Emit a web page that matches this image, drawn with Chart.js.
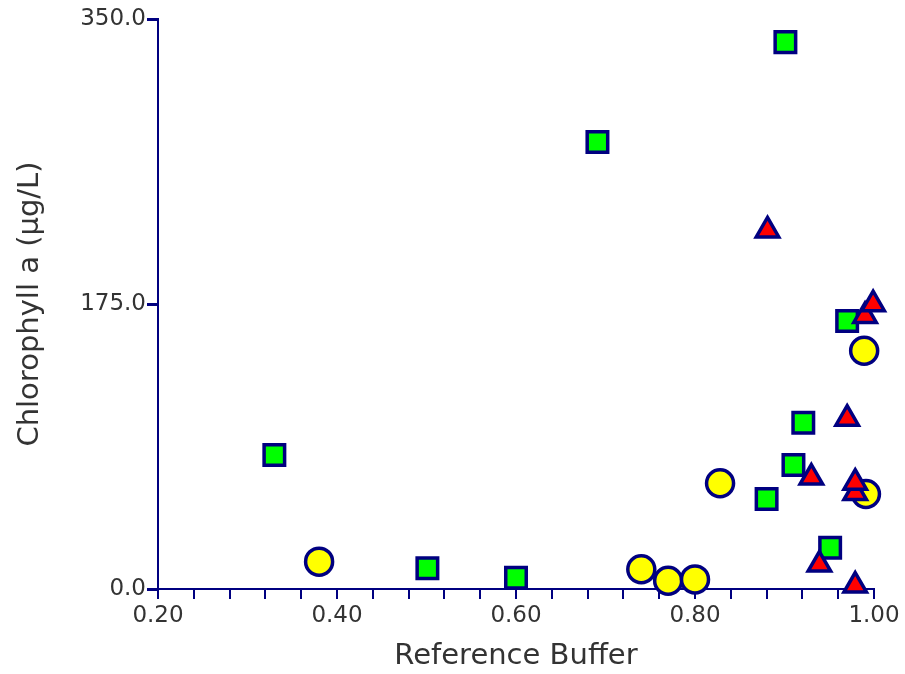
<!DOCTYPE html>
<html>
<head>
<meta charset="utf-8">
<script src="https://cdn.jsdelivr.net/npm/chart.js@4/dist/chart.umd.min.js"></script>
<style>
html,body{margin:0;padding:0;background:#ffffff;}
#wrap{width:905px;height:674px;}
</style>
</head>
<body>
<div id="wrap"><canvas id="c" width="905" height="674"></canvas></div>
<script>
// ---- data ----
const squaresX = [0.330, 0.501, 0.600, 0.691, 0.901, 0.970, 0.921, 0.910, 0.880, 0.951];
const squaresY = [82.3, 12.7, 6.9, 274.4, 335.8, 164.5, 102.1, 76.1, 55.2, 25.4];

const trianglesX = [0.881, 0.990, 0.999, 0.970, 0.930, 0.979, 0.979, 0.939, 0.979];
const trianglesY = [220.2, 167.7, 174.9, 104.6, 68.4, 58.9, 65.3, 15.0, 2.1];

const circlesX = [0.380, 0.740, 0.770, 0.800, 0.828, 0.989, 0.991];
const circlesY = [16.8, 12.1, 5.1, 5.9, 64.9, 146.3, 58.3];

const xMajorTicks = [0.20, 0.40, 0.60, 0.80, 1.00];
const xMinorTicks = [0.24, 0.28, 0.32, 0.36, 0.44, 0.48, 0.52, 0.56, 0.64, 0.68, 0.72, 0.76, 0.84, 0.88, 0.92, 0.96];
const yTicks = [0, 175, 350];

const xTitle = 'Reference Buffer';
const yTitle = 'Chlorophyll a (µg/L)';

// ---- styling ----
const NAVY = '#000080';
const TEXT = '#333333';
const FONT = 'DejaVu Sans';

const pts = (xs, ys) => xs.map((x, i) => ({ x: x, y: ys[i] }));

function markerSet(label, data, style, radius, fill, order) {
  return {
    label: label,
    data: data,
    pointStyle: style,
    pointRadius: radius,
    pointHoverRadius: radius,
    backgroundColor: fill,
    pointBackgroundColor: fill,
    pointHoverBackgroundColor: fill,
    borderColor: NAVY,
    pointBorderColor: NAVY,
    pointHoverBorderColor: NAVY,
    borderWidth: 3.5,
    pointBorderWidth: 3.5,
    pointHoverBorderWidth: 3.5,
    order: order,
    clip: false
  };
}

new Chart(document.getElementById('c'), {
  type: 'scatter',
  data: {
    datasets: [
      markerSet('Triangles', pts(trianglesX, trianglesY), 'triangle', 13, '#ff0000', 0),
      markerSet('Squares', pts(squaresX, squaresY), 'rect', 14.5, '#00ff00', 1),
      markerSet('Circles', pts(circlesX, circlesY), 'circle', 13.5, '#ffff00', 2)
    ]
  },
  options: {
    responsive: false,
    animation: false,
    devicePixelRatio: 1,
    events: [],
    layout: { padding: { top: 19, right: 31, left: 0, bottom: 0 } },
    plugins: { legend: { display: false }, tooltip: { enabled: false } },
    scales: {
      x: {
        type: 'linear',
        min: 0.2,
        max: 1.0,
        afterFit: s => { s.height = 85; },
        afterBuildTicks: s => {
          s.ticks = [...xMajorTicks, ...xMinorTicks].sort((a, b) => a - b).map(v => ({ value: v }));
        },
        ticks: {
          autoSkip: false,
          maxRotation: 0,
          minRotation: 0,
          padding: 3,
          color: TEXT,
          font: { family: FONT, size: 23 },
          callback: v => xMajorTicks.some(m => Math.abs(m - v) < 1e-9) ? Number(v).toFixed(2) : ''
        },
        grid: { drawOnChartArea: false, drawTicks: true, tickLength: 10, color: NAVY, lineWidth: 2 },
        border: { display: true, color: NAVY, width: 2 },
        title: {
          display: true,
          text: xTitle,
          color: TEXT,
          font: { family: FONT, size: 29 },
          padding: { top: 0, bottom: 0 }
        }
      },
      y: {
        type: 'linear',
        min: 0,
        max: 350,
        afterFit: s => { s.width = 158; },
        afterBuildTicks: s => { s.ticks = yTicks.map(v => ({ value: v })); },
        ticks: {
          padding: 1,
          color: TEXT,
          font: { family: FONT, size: 23 },
          callback: v => Number(v).toFixed(1)
        },
        grid: { drawOnChartArea: false, drawTicks: true, tickLength: 11, color: NAVY, lineWidth: 3 },
        border: { display: true, color: NAVY, width: 2 },
        title: {
          display: true,
          text: yTitle,
          color: TEXT,
          font: { family: FONT, size: 29 },
          padding: { top: 13, bottom: 0 }
        }
      }
    }
  }
});
</script>
</body>
</html>
